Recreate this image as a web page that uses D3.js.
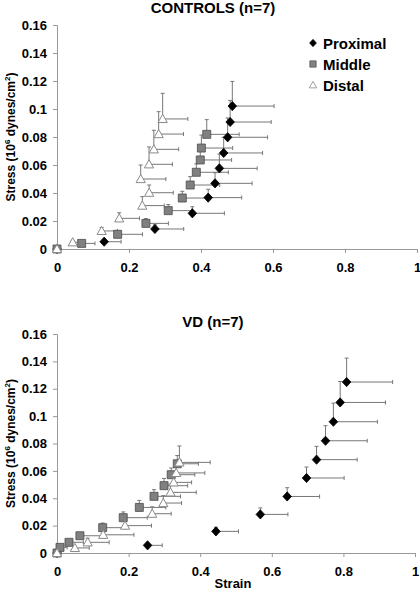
<!DOCTYPE html>
<html><head><meta charset="utf-8">
<script src="https://cdn.jsdelivr.net/npm/d3@7"></script>
<style>
body{margin:0;background:#fff;}
text{font-family:"Liberation Sans",Arial,sans-serif;font-weight:bold;fill:#000;}
</style></head>
<body><svg id="c" width="420" height="590"></svg>
<script>
// ---- data ----
const xTicks = [0, 0.2, 0.4, 0.6, 0.8, 1];
const xTickLabels = ["0", "0.2", "0.4", "0.6", "0.8", "1"];
const yTicks = [0, 0.02, 0.04, 0.06, 0.08, 0.1, 0.12, 0.14, 0.16];
const yTickLabels = ["0", "0.02", "0.04", "0.06", "0.08", "0.1", "0.12", "0.14", "0.16"];
const seriesNames = ["Proximal", "Middle", "Distal"];
const chartTitles = ["CONTROLS (n=7)", "VD (n=7)"];

// CONTROLS
const ctrlProxStrain = [0, 0.131, 0.272, 0.376, 0.420, 0.439, 0.451, 0.463, 0.474, 0.481, 0.487];
const ctrlProxStress = [0, 0.0052, 0.0143, 0.0255, 0.0367, 0.0469, 0.0576, 0.0686, 0.0798, 0.0907, 0.1021];
const ctrlProxStrainErr = [0, 0.047, 0.080, 0.089, 0.093, 0.103, 0.105, 0.108, 0.111, 0.114, 0.116];
const ctrlProxStressErr = [0, 0.001, 0.003, 0.0047, 0.006, 0.0076, 0.0102, 0.0112, 0.0138, 0.0154, 0.0176];

const ctrlMidStrain = [0, 0.0685, 0.1685, 0.247, 0.309, 0.348, 0.370, 0.387, 0.398, 0.401, 0.416];
const ctrlMidStress = [0, 0.004, 0.0105, 0.0183, 0.0274, 0.0364, 0.0457, 0.0548, 0.0636, 0.0721, 0.0819];
const ctrlMidStrainErr = [0, 0.037, 0.069, 0.0625, 0.065, 0.068, 0.082, 0.089, 0.087, 0.087, 0.090];
const ctrlMidStressErr = [0, 0.001, 0.0015, 0.0034, 0.0043, 0.0048, 0.006, 0.006, 0.0083, 0.0093, 0.0105];

const ctrlDistStrain = [0, 0.0436, 0.124, 0.173, 0.237, 0.256, 0.2325, 0.2556, 0.269, 0.2824, 0.2935];
const ctrlDistStress = [0, 0.0048, 0.0129, 0.0219, 0.031, 0.0402, 0.050, 0.0605, 0.0712, 0.0821, 0.0929];
const ctrlDistStrainErr = [0, 0.025, 0.044, 0.056, 0.061, 0.067, 0.070, 0.065, 0.069, 0.069, 0.070];
const ctrlDistStressErr = [0, 0.001, 0.0025, 0.004, 0.0064, 0.0055, 0.010, 0.0124, 0.0136, 0.016, 0.0183];

// VD
const vdProxStrain = [0, 0.253, 0.444, 0.568, 0.643, 0.697, 0.725, 0.750, 0.772, 0.791, 0.809];
const vdProxStress = [0, 0.0056, 0.0158, 0.0282, 0.0413, 0.0548, 0.0682, 0.082, 0.0959, 0.110, 0.1249];
const vdProxStrainErr = [0, 0.041, 0.063, 0.077, 0.0905, 0.105, 0.1135, 0.1165, 0.123, 0.1265, 0.1285];
const vdProxStressErr = [0, 0.001, 0.003, 0.0047, 0.0064, 0.008, 0.0097, 0.011, 0.0136, 0.0153, 0.0175];

const vdMidStrain = [0, 0.0084, 0.0335, 0.064, 0.1276, 0.185, 0.23, 0.271, 0.299, 0.319, 0.336];
const vdMidStress = [0, 0.0041, 0.0078, 0.0126, 0.0185, 0.0258, 0.0333, 0.0414, 0.0492, 0.0572, 0.0652];
const vdMidStrainErr = [0, 0.02, 0.04, 0.065, 0.064, 0.067, 0.074, 0.074, 0.066, 0.066, 0.059];
const vdMidStressErr = [0, 0.0008, 0.0012, 0.0024, 0.0034, 0.0042, 0.0051, 0.0049, 0.0053, 0.0049, 0.006];

const vdDistStrain = [0, 0.050, 0.0857, 0.129, 0.19, 0.266, 0.297, 0.317, 0.326, 0.333, 0.342];
const vdDistStress = [0, 0.0037, 0.0078, 0.0133, 0.020, 0.0287, 0.0365, 0.0443, 0.0516, 0.0585, 0.0662];
const vdDistStrainErr = [0, 0.04, 0.06, 0.086, 0.074, 0.053, 0.051, 0.072, 0.05, 0.08, 0.086];
const vdDistStressErr = [0, 0.001, 0.003, 0.003, 0.004, 0.005, 0.0054, 0.006, 0.006, 0.007, 0.012];

// ---- drawing ----
const svg = d3.select("#c");
const shapes = {
  Proximal: "M0,-4.6L4.3,0L0,4.6L-4.3,0Z",
  Middle: "M-4,-4H4V4H-4Z",
  Distal: "M0,-4.6L4.6,3.6L-4.6,3.6Z"
};
const styles = {
  Proximal: {fill: "#000", stroke: "#000", sw: 0.8},
  Middle: {fill: "#808080", stroke: "#4a4a4a", sw: 0.8},
  Distal: {fill: "#fff", stroke: "#8a8a8a", sw: 1}
};

function zip(s, t, se, te) { return s.map((v, i) => ({x: v, y: t[i], xe: se[i], ye: te[i]})); }

function drawChart(cfg) {
  const x = d3.scaleLinear().domain([0, 1]).range(cfg.xr);
  const y = d3.scaleLinear().domain([0, 0.16]).range(cfg.yr);
  const g = svg.append("g");

  // title
  g.append("text").attr("x", 213).attr("y", cfg.titleY).attr("text-anchor", "middle")
    .style("font-size", "15px").text(cfg.title);

  // y axis
  const ya = g.append("g").attr("transform", `translate(${cfg.xr[0]},0)`)
    .call(d3.axisLeft(y).tickValues(yTicks).tickSize(4).tickFormat((d, i) => yTickLabels[i]));
  ya.select(".domain").attr("stroke", "#999");
  ya.selectAll(".tick line").attr("stroke", "#999");
  ya.selectAll(".tick text").attr("x", -10).style("font-size", "13px")
    .style("font-family", '"Liberation Sans",Arial,sans-serif').style("font-weight", "bold").attr("fill", "#000");

  // x axis
  const xa = g.append("g").attr("transform", `translate(0,${cfg.yr[0]})`)
    .call(d3.axisBottom(x).tickValues(xTicks).tickSize(4).tickSizeOuter(0).tickFormat((d, i) => xTickLabels[i]));
  xa.select(".domain").attr("stroke", "#999");
  xa.selectAll(".tick line").attr("stroke", "#999");
  xa.selectAll(".tick text").attr("y", 14).style("font-size", "13px")
    .style("font-family", '"Liberation Sans",Arial,sans-serif').style("font-weight", "bold").attr("fill", "#000");

  // y label
  const yl = g.append("text").attr("transform", `translate(15,${(cfg.yr[0] + cfg.yr[1]) / 2}) rotate(-90)`)
    .attr("text-anchor", "middle").style("font-size", "12px");
  yl.append("tspan").text("Stress (10");
  yl.append("tspan").attr("dy", -5).style("font-size", "8px").text("6");
  yl.append("tspan").attr("dy", 5).text(" dynes/cm");
  yl.append("tspan").attr("dy", -5).style("font-size", "8px").text("2");
  yl.append("tspan").attr("dy", 5).text(")");

  if (cfg.xLabel) {
    g.append("text").attr("x", 233).attr("y", 588).attr("text-anchor", "middle")
      .style("font-size", "13px").text(cfg.xLabel);
  }

  // series
  cfg.series.forEach(s => {
    const data = s.data;
    const eb = g.append("g").attr("stroke", "#777").attr("stroke-width", 1).attr("fill", "none");
    data.forEach(d => {
      if (d.xe > 0) {
        const x0 = x(d.x), x1 = x(d.x + d.xe), yy = y(d.y);
        eb.append("line").attr("x1", x0).attr("x2", x1).attr("y1", yy).attr("y2", yy);
        eb.append("line").attr("x1", x1).attr("x2", x1).attr("y1", yy - 2).attr("y2", yy + 2);
      }
      if (d.ye > 0) {
        const xx = x(d.x), y0 = y(d.y), y1 = y(d.y + d.ye);
        eb.append("line").attr("x1", xx).attr("x2", xx).attr("y1", y0).attr("y2", y1);
        eb.append("line").attr("x1", xx - 2).attr("x2", xx + 2).attr("y1", y1).attr("y2", y1);
      }
    });
  });
  cfg.series.forEach(s => {
    const st = styles[s.name];
    g.append("g").selectAll("path").data(s.data).join("path")
      .attr("d", shapes[s.name])
      .attr("transform", d => `translate(${x(d.x)},${y(d.y)})`)
      .attr("fill", st.fill).attr("stroke", st.stroke).attr("stroke-width", st.sw);
  });

  // legend
  if (cfg.legend) {
    const lg = g.append("g");
    seriesNames.forEach((n, i) => {
      const st = styles[n];
      const cy = 43 + i * 21;
      lg.append("path").attr("d", shapes[n]).attr("transform", `translate(313,${cy}) scale(0.8)`)
        .attr("fill", st.fill).attr("stroke", st.stroke).attr("stroke-width", st.sw);
      lg.append("text").attr("x", 323).attr("y", cy + 5.5).style("font-size", "15px").text(n);
    });
  }
}

drawChart({
  title: chartTitles[0], titleY: 13, xr: [57, 417], yr: [249, 25], legend: true,
  series: [
    {name: "Proximal", data: zip(ctrlProxStrain, ctrlProxStress, ctrlProxStrainErr, ctrlProxStressErr)},
    {name: "Middle", data: zip(ctrlMidStrain, ctrlMidStress, ctrlMidStrainErr, ctrlMidStressErr)},
    {name: "Distal", data: zip(ctrlDistStrain, ctrlDistStress, ctrlDistStrainErr, ctrlDistStressErr)}
  ]
});
drawChart({
  title: chartTitles[1], titleY: 327, xr: [57, 415], yr: [553, 334], legend: false, xLabel: "Strain",
  series: [
    {name: "Proximal", data: zip(vdProxStrain, vdProxStress, vdProxStrainErr, vdProxStressErr)},
    {name: "Middle", data: zip(vdMidStrain, vdMidStress, vdMidStrainErr, vdMidStressErr)},
    {name: "Distal", data: zip(vdDistStrain, vdDistStress, vdDistStrainErr, vdDistStressErr)}
  ]
});
</script></body></html>
